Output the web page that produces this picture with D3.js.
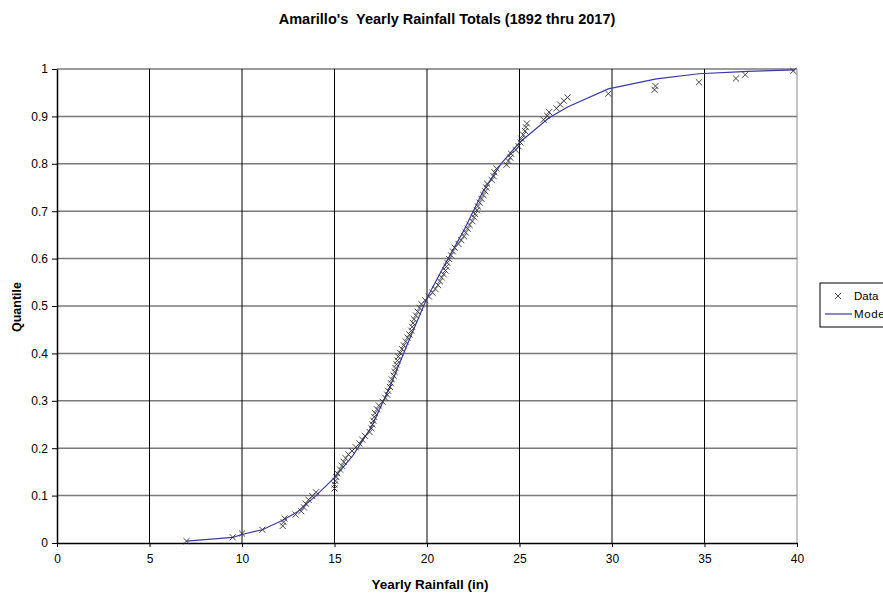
<!DOCTYPE html>
<html>
<head>
<meta charset="utf-8">
<script src="https://cdn.jsdelivr.net/npm/d3@7"></script>
<style>
  body { margin: 0; background: #fff; overflow: hidden; }
  text { font-family: "Liberation Sans", Arial, sans-serif; }
</style>
</head>
<body>
<svg id="chart" width="883" height="595"></svg>
<script>
// yearly rainfall, sorted (in)
var rainfall = [7.0, 9.5, 10.0, 11.1, 12.2, 12.25, 12.3, 12.9, 13.2, 13.35,
    13.45, 13.6, 13.8, 14.0, 15.0, 15.0, 15.05, 15.1, 15.15, 15.3,
    15.4, 15.5, 15.6, 15.75, 15.95, 16.15, 16.35, 16.5, 16.65, 16.9,
    17.0, 17.05, 17.1, 17.15, 17.2, 17.3, 17.4, 17.6, 17.75, 17.85,
    17.9, 18.0, 18.05, 18.1, 18.2, 18.25, 18.3, 18.35, 18.4, 18.45,
    18.55, 18.65, 18.75, 18.85, 18.95, 19.05, 19.15, 19.2, 19.25, 19.3,
    19.4, 19.5, 19.6, 19.7, 19.9, 20.1, 20.3, 20.45, 20.6, 20.7,
    20.8, 20.9, 21.0, 21.05, 21.1, 21.2, 21.3, 21.4, 21.5, 21.7,
    21.85, 22.0, 22.1, 22.2, 22.3, 22.45, 22.55, 22.6, 22.7, 22.75,
    22.85, 22.95, 23.05, 23.15, 23.2, 23.25, 23.5, 23.6, 23.65, 23.75,
    24.3, 24.4, 24.5, 24.55, 24.8, 24.95, 25.05, 25.1, 25.2, 25.3,
    25.35, 25.4, 26.3, 26.5, 26.6, 27.0, 27.2, 27.4, 27.6, 29.8,
    32.3, 32.35, 34.7, 36.7, 37.2, 39.8];

// empirical quantile of each value
var quantile = [0.004, 0.012, 0.020, 0.028, 0.036, 0.044, 0.052, 0.060, 0.067, 0.075,
    0.083, 0.091, 0.099, 0.107, 0.115, 0.123, 0.131, 0.139, 0.147, 0.155,
    0.163, 0.171, 0.179, 0.187, 0.194, 0.202, 0.210, 0.218, 0.226, 0.234,
    0.242, 0.250, 0.258, 0.266, 0.274, 0.282, 0.290, 0.298, 0.306, 0.313,
    0.321, 0.329, 0.337, 0.345, 0.353, 0.361, 0.369, 0.377, 0.385, 0.393,
    0.401, 0.409, 0.417, 0.425, 0.433, 0.440, 0.448, 0.456, 0.464, 0.472,
    0.480, 0.488, 0.496, 0.504, 0.512, 0.520, 0.528, 0.536, 0.544, 0.552,
    0.560, 0.567, 0.575, 0.583, 0.591, 0.599, 0.607, 0.615, 0.623, 0.631,
    0.639, 0.647, 0.655, 0.663, 0.671, 0.679, 0.687, 0.694, 0.702, 0.710,
    0.718, 0.726, 0.734, 0.742, 0.750, 0.758, 0.766, 0.774, 0.782, 0.790,
    0.798, 0.806, 0.813, 0.821, 0.829, 0.837, 0.845, 0.853, 0.861, 0.869,
    0.877, 0.885, 0.893, 0.901, 0.909, 0.917, 0.925, 0.933, 0.940, 0.948,
    0.956, 0.964, 0.972, 0.980, 0.988, 0.996];

// fitted model curve
var modelX = [7, 9.5, 10, 11.1, 12.2, 13, 14, 15, 16, 17, 18, 19, 20, 21, 22, 23,
    24, 25, 26.6, 27.6, 29.8, 32.4, 34.7, 36.8, 37.3, 39.9];
var modelY = [0.004, 0.012, 0.018, 0.028, 0.048, 0.066, 0.1, 0.138, 0.185, 0.245,
    0.33, 0.425, 0.517, 0.59, 0.66, 0.74, 0.8, 0.845, 0.897, 0.92,
    0.958, 0.979, 0.99, 0.994, 0.995, 0.998];

var xTicks = [0, 5, 10, 15, 20, 25, 30, 35, 40];
var yTicks = [0, 0.1, 0.2, 0.3, 0.4, 0.5, 0.6, 0.7, 0.8, 0.9, 1];

function drawChart() {
    var svg = d3.select("#chart");
    var plotLeft = 57, plotRight = 797, plotTop = 69, plotBottom = 543;

    var x = d3.scaleLinear().domain([0, 40]).range([plotLeft, plotRight]);
    var y = d3.scaleLinear().domain([0, 1]).range([plotBottom, plotTop]);

    //Gridlines
    svg.append("g")
        .selectAll("line")
        .data(yTicks.slice(1))
        .enter().append("line")
        .attr("x1", plotLeft).attr("x2", plotRight)
        .attr("y1", function(d) { return y(d); })
        .attr("y2", function(d) { return y(d); })
        .style("stroke", "#7a7a7a")
        .style("stroke-width", "1.5px");

    svg.append("g")
        .selectAll("line")
        .data(xTicks.slice(1, -1))
        .enter().append("line")
        .attr("x1", function(d) { return x(d); })
        .attr("x2", function(d) { return x(d); })
        .attr("y1", plotTop).attr("y2", plotBottom)
        .style("stroke", "#000")
        .style("stroke-width", "1px");

    // right border
    svg.append("line")
        .attr("x1", plotRight).attr("x2", plotRight).attr("y1", plotTop).attr("y2", plotBottom)
        .style("stroke", "#8a8a8a").style("stroke-width", "1px");

    //Axes
    var xAxis = svg.append("g")
        .attr("transform", "translate(0," + plotBottom + ")")
        .call(d3.axisBottom(x).tickValues(xTicks).tickSize(4).tickSizeOuter(0).tickFormat(d3.format("d")));
    var yAxis = svg.append("g")
        .attr("transform", "translate(" + plotLeft + ",0)")
        .call(d3.axisLeft(y).tickValues(yTicks).tickSize(5).tickSizeOuter(0)
            .tickFormat(function(d) { return d === 0 || d === 1 ? d : d3.format(".1f")(d); }));

    [xAxis, yAxis].forEach(function(a) {
        a.select(".domain").style("stroke", "#000").style("stroke-width", "1.5px");
        a.selectAll(".tick line").style("stroke", "#000");
        a.selectAll("text").style("font-size", "12px").style("fill", "#000")
            .style("font-family", "'Liberation Sans', Arial, sans-serif");
    });
    xAxis.selectAll("text").attr("dy", "1.1em");
    yAxis.selectAll("text").attr("x", -9);

    //Model line
    var line = d3.line()
        .x(function(d) { return x(d[0]); })
        .y(function(d) { return y(d[1]); });

    svg.append("path")
        .datum(modelX.map(function(v, i) { return [v, modelY[i]]; }))
        .attr("d", line)
        .style("fill", "none")
        .style("stroke", "#3a3aa6")
        .style("stroke-width", "1.2px");

    //Data markers
    var cross = d3.symbol().type(d3.symbolX).size(26);
    svg.append("g")
        .selectAll("path")
        .data(rainfall.map(function(v, i) { return [v, quantile[i]]; }))
        .enter().append("path")
        .attr("d", cross)
        .attr("transform", function(d) { return "translate(" + x(d[0]) + "," + y(d[1]) + ")"; })
        .style("fill", "none")
        .style("stroke", "#333")
        .style("stroke-width", "0.9px");

    //Titles
    svg.append("text")
        .attr("x", 447).attr("y", 24)
        .attr("text-anchor", "middle")
        .style("white-space", "pre")
        .style("font-size", "14.5px").style("font-weight", "bold")
        .text("Amarillo's  Yearly Rainfall Totals (1892 thru 2017)");

    svg.append("text")
        .attr("x", 430).attr("y", 589)
        .attr("text-anchor", "middle")
        .style("font-size", "13.5px").style("font-weight", "bold")
        .text("Yearly Rainfall (in)");

    svg.append("text")
        .attr("transform", "translate(21,307) rotate(-90)")
        .attr("text-anchor", "middle")
        .style("font-size", "12.5px").style("font-weight", "bold")
        .text("Quantile");

    //Legend
    var legend = svg.append("g").attr("transform", "translate(820,283)");
    legend.append("rect")
        .attr("width", 80).attr("height", 44)
        .style("fill", "#fff").style("stroke", "#000").style("stroke-width", "1px");
    legend.append("path")
        .attr("d", cross)
        .attr("transform", "translate(18,13)")
        .style("fill", "none").style("stroke", "#333").style("stroke-width", "0.9px");
    legend.append("text")
        .attr("x", 34).attr("y", 17)
        .style("font-size", "11.5px")
        .text("Data");
    legend.append("line")
        .attr("x1", 5).attr("x2", 32).attr("y1", 31).attr("y2", 31)
        .style("stroke", "#3a3aa6").style("stroke-width", "1.2px");
    legend.append("text")
        .attr("x", 34).attr("y", 35)
        .style("font-size", "11.5px")
        .style("letter-spacing", "0.6px")
        .text("Model");
}

drawChart();
</script>
</body>
</html>
